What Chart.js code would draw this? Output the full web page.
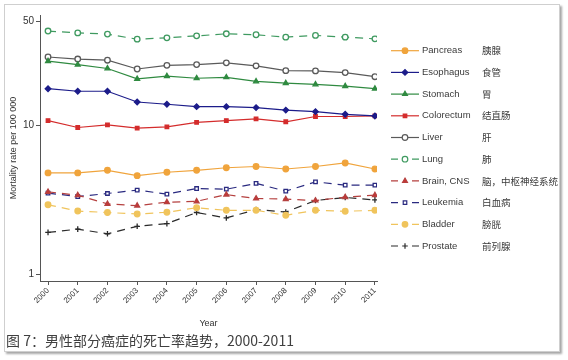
<!DOCTYPE html>
<html>
<head>
<meta charset="utf-8">
<script src="https://cdn.jsdelivr.net/npm/chart.js@4/dist/chart.umd.min.js"></script>
<style>
  body { margin: 0; background: #fff; }
  #wrap { position: relative; width: 568px; height: 360px; overflow: hidden; }
  #frame { position: absolute; left: 4px; top: 4px; width: 554px; height: 346px;
           border: 1px solid #cfcfcf; box-shadow: 2px 2px 2px rgba(0,0,0,0.35); }
  #chart { position: absolute; left: 0; top: 0; }
  #caption { position: absolute; left: 6px; top: 330px; font: 14px "Noto Sans CJK SC", sans-serif;
             color: #404040; white-space: nowrap; }
</style>
</head>
<body>
<div id="wrap">
  <div id="frame"></div>
  <canvas id="chart" width="568" height="360"></canvas>
  <div id="caption">图 7：男性部分癌症的死亡率趋势，2000-2011</div>
</div>
<script>
// mortality per 100 000, men, 2000-2011
const years = [2000, 2001, 2002, 2003, 2004, 2005, 2006, 2007, 2008, 2009, 2010, 2011];
const yTicks = [1, 10, 50];

const pancreas   = [4.8, 4.8, 5.0, 4.6, 4.85, 5.0, 5.2, 5.3, 5.1, 5.3, 5.6, 5.1];
const esophagus  = [17.7, 17.0, 17.0, 14.4, 13.9, 13.4, 13.4, 13.2, 12.7, 12.4, 11.9, 11.6];
const stomach    = [27.1, 25.7, 24.2, 20.6, 21.5, 20.8, 21.1, 19.8, 19.3, 18.9, 18.4, 17.7];
const colorectum = [10.8, 9.7, 10.1, 9.6, 9.8, 10.5, 10.8, 11.1, 10.6, 11.5, 11.5, 11.6];
const liver      = [28.9, 28.0, 27.5, 24.0, 25.4, 25.7, 26.4, 25.2, 23.4, 23.3, 22.7, 21.3];
const lung       = [43.2, 42.0, 41.2, 38.1, 38.9, 40.1, 41.4, 40.8, 39.3, 40.4, 39.3, 38.3];
const brain      = [3.58, 3.40, 2.97, 2.89, 3.05, 3.09, 3.43, 3.23, 3.20, 3.13, 3.30, 3.40];
const leukemia   = [3.51, 3.33, 3.49, 3.68, 3.46, 3.77, 3.73, 4.08, 3.62, 4.18, 3.97, 3.97];
const bladder    = [2.93, 2.66, 2.60, 2.54, 2.61, 2.80, 2.69, 2.69, 2.49, 2.69, 2.65, 2.69];
const prostate   = [1.91, 2.01, 1.87, 2.10, 2.19, 2.60, 2.39, 2.72, 2.62, 3.13, 3.28, 3.16];

const names   = ['Pancreas', 'Esophagus', 'Stomach', 'Colorectum', 'Liver', 'Lung', 'Brain, CNS', 'Leukemia', 'Bladder', 'Prostate'];
const namesCn = ['胰腺', '食管', '胃', '结直肠', '肝', '肺', '脑，中枢神经系统', '白血病', '膀胱', '前列腺'];
const series  = [pancreas, esophagus, stomach, colorectum, liver, lung, brain, leukemia, bladder, prostate];

const styles = [
  { color: '#f0a43c', point: 'circle',   fill: '#f0a43c', dash: [] },
  { color: '#1c1c8a', point: 'rectRot',  fill: '#1c1c8a', dash: [] },
  { color: '#2f8a40', point: 'triangle', fill: '#2f8a40', dash: [] },
  { color: '#d42c2c', point: 'rect',     fill: '#d42c2c', dash: [] },
  { color: '#5a5a5a', point: 'circle',   fill: '#ffffff', dash: [] },
  { color: '#3f9a60', point: 'circle',   fill: '#ffffff', dash: [8, 6] },
  { color: '#b5403f', point: 'triangle', fill: '#c83434', dash: [8, 6] },
  { color: '#2a2a80', point: 'rect',     fill: '#ffffff', dash: [8, 6] },
  { color: '#f0c45c', point: 'circle',   fill: '#f0c45c', dash: [8, 6] },
  { color: '#2a2a2a', point: 'cross',    fill: '#2a2a2a', dash: [8, 6] }
];

const datasets = series.map((vals, i) => ({
  label: names[i],
  data: years.map((yr, j) => ({ x: yr, y: vals[j] })),
  borderColor: styles[i].color,
  backgroundColor: styles[i].fill,
  pointBorderColor: styles[i].color,
  pointBackgroundColor: styles[i].fill,
  pointStyle: styles[i].point,
  pointRadius: styles[i].point === 'rect' ? 2.5 : 2.8,
  pointBorderWidth: 1.3,
  borderWidth: 1.2,
  borderDash: styles[i].dash,
  tension: 0,
  fill: false
}));

// two-column legend on the right (English + Chinese)
const sideLegend = {
  id: 'sideLegend',
  afterDraw(chart) {
    const ctx = chart.ctx;
    const x0 = 391, x1 = 419, xm = 405;
    ctx.save();
    datasets.forEach((ds, i) => {
      const y = 50.7 + i * 21.7;
      ctx.strokeStyle = ds.borderColor;
      ctx.lineWidth = 1.2;
      ctx.beginPath();
      if (ds.borderDash.length) {
        ctx.moveTo(x0, y); ctx.lineTo(x0 + 7, y);
        ctx.moveTo(x1 - 7, y); ctx.lineTo(x1, y);
      } else {
        ctx.moveTo(x0, y); ctx.lineTo(x1, y);
      }
      ctx.stroke();
      ctx.fillStyle = ds.pointBackgroundColor;
      ctx.strokeStyle = ds.pointBorderColor;
      Chart.helpers.drawPoint(ctx, { pointStyle: ds.pointStyle, radius: ds.pointRadius, rotation: 0, borderWidth: 1.3 }, xm, y);
      ctx.fillStyle = '#3a3a3a';
      ctx.textBaseline = 'middle';
      ctx.textAlign = 'left';
      ctx.font = '9.5px "Liberation Sans", Arial, sans-serif';
      ctx.fillText(names[i], 422, y);
      ctx.font = '9.5px "Noto Sans CJK SC", sans-serif';
      ctx.fillText(namesCn[i], 482, y);
    });
    ctx.restore();
  }
};

Chart.defaults.font.family = '"Liberation Sans", Arial, sans-serif';
Chart.defaults.color = '#333';

new Chart(document.getElementById('chart'), {
  type: 'line',
  data: { datasets },
  options: {
    responsive: false,
    animation: false,
    layout: { padding: { top: 15, right: 191, left: 0, bottom: 0 } },
    plugins: {
      legend: { display: false },
      tooltip: { enabled: false }
    },
    scales: {
      x: {
        type: 'linear',
        min: 1999.73,
        max: 2011.07,
        afterBuildTicks: (scale) => { scale.ticks = years.map((v) => ({ value: v })); },
        afterFit: (scale) => { scale.height = 79; },
        ticks: {
          callback: (v) => String(v),
          minRotation: 45,
          maxRotation: 45,
          padding: 1,
          font: { size: 8 },
          color: '#333'
        },
        grid: { drawOnChartArea: false, drawTicks: true, tickLength: 4, color: '#555' },
        border: { color: '#555', width: 1 },
        title: { display: true, text: 'Year', font: { size: 9 }, color: '#333', padding: { top: 0, bottom: 31 } }
      },
      y: {
        type: 'logarithmic',
        min: 0.9,
        max: 55.4,
        afterBuildTicks: (scale) => { scale.ticks = yTicks.map((v) => ({ value: v })); },
        afterFit: (scale) => { scale.width = 40; },
        ticks: {
          callback: (v) => String(v),
          padding: 2,
          font: { size: 10 },
          color: '#333'
        },
        grid: { drawOnChartArea: false, drawTicks: true, tickLength: 4, color: '#555' },
        border: { color: '#555', width: 1 },
        title: { display: true, text: 'Mortality rate per 100 000', font: { size: 9 }, color: '#333', padding: { top: 8, bottom: 0 } }
      }
    }
  },
  plugins: [sideLegend]
});
</script>
</body>
</html>
